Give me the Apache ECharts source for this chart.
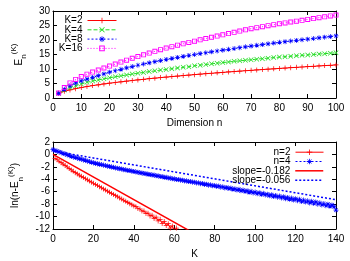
<!DOCTYPE html>
<html><head><meta charset="utf-8">
<script src="https://cdn.jsdelivr.net/npm/echarts@6/dist/echarts.min.js"></script>
<style>html,body{margin:0;padding:0;background:#fff}#c{width:350px;height:261px}</style>
</head><body><div id="c"></div>
<script>
// ---- top panel data ----
const dims = [2,4,6,8,10,12,14,16,18,20,22,24,26,28,30,32,34,36,38,40,42,44,46,48,50,52,54,56,58,60,62,64,66,68,70,72,74,76,78,80,82,84,86,88,90,92,94,96,98,100];
const eK2 = [1.6,2.3,2.8,3.2,3.6,3.95,4.27,4.56,4.84,5.1,5.35,5.58,5.81,6.03,6.24,6.45,6.65,6.84,7.03,7.21,7.39,7.56,7.73,7.9,8.06,8.22,8.38,8.53,8.68,8.83,8.98,9.12,9.26,9.4,9.54,9.67,9.81,9.94,10.07,10.2,10.32,10.45,10.57,10.69,10.82,10.93,11.05,11.17,11.28,11.4];
const eK4 = [1.6,2.75,3.6,4.25,4.85,5.4,5.84,6.24,6.62,6.98,7.32,7.64,7.95,8.26,8.54,8.82,9.1,9.36,9.62,9.87,10.11,10.35,10.58,10.81,11.1,11.33,11.55,11.78,12.0,12.21,12.42,12.63,12.82,13.01,13.2,13.39,13.57,13.75,13.93,14.1,14.25,14.4,14.55,14.7,14.85,15.0,15.15,15.3,15.44,15.6];
const eK8 = [1.6,3.0,4.2,5.1,5.9,6.5,7.1,7.7,8.3,8.9,9.4,9.9,10.4,10.85,11.3,11.72,12.12,12.52,12.92,13.3,13.65,14.0,14.34,14.68,15.0,15.31,15.61,15.91,16.21,16.5,16.79,17.07,17.35,17.63,17.9,18.16,18.42,18.68,18.94,19.2,19.43,19.65,19.87,20.09,20.3,20.52,20.74,20.96,21.18,21.4];
const eK16 = [1.7,3.6,5.2,6.4,7.4,8.2,8.95,9.65,10.35,11.0,11.7,12.4,13.05,13.7,14.3,14.9,15.5,16.08,16.65,17.2,17.7,18.2,18.68,19.15,19.6,20.05,20.5,20.94,21.37,21.8,22.23,22.66,23.08,23.5,23.9,24.25,24.6,24.94,25.27,25.6,25.9,26.2,26.5,26.8,27.1,27.4,27.7,28.0,28.3,28.6];

// ---- bottom panel data ----
const kN4 = [0,1,2,3,4,5,6,7,8,9,10,11,12,13,14,15,16,17,18,19,20,21,22,23,24,25,26,27,28,29,30,31,32,33,34,35,36,37,38,39,40,41,42,43,44,45,46,47,48,49,50,51,52,53,54,55,56,57,58,59,60,61,62,63,64,65,66,67,68,69,70,71,72,73,74,75,76,77,78,79,80,81,82,83,84,85,86,87,88,89,90,91,92,93,94,95,96,97,98,99,100,101,102,103,104,105,106,107,108,109,110,111,112,113,114,115,116,117,118,119,120,121,122,123,124,125,126,127,128,129,130,131,132,133,134,135,136,137,138,139,140];
const lnN4 = [0.78,0.62,0.54,0.40,0.31,0.16,0.08,-0.06,-0.15,-0.30,-0.38,
 -0.50,-0.57,-0.70,-0.76,-0.89,-0.95,-1.08,-1.14,-1.27,-1.33,
 -1.44,-1.48,-1.59,-1.63,-1.74,-1.78,-1.89,-1.93,-2.04,-2.08,
 -2.18,-2.21,-2.32,-2.34,-2.45,-2.47,-2.57,-2.60,-2.70,-2.73,
 -2.83,-2.85,-2.96,-2.97,-3.08,-3.09,-3.20,-3.21,-3.32,-3.33,
 -3.44,-3.45,-3.56,-3.57,-3.68,-3.69,-3.80,-3.81,-3.92,-3.93,
 -4.04,-4.03,-4.15,-4.14,-4.26,-4.24,-4.37,-4.35,-4.48,-4.46,
 -4.60,-4.56,-4.71,-4.67,-4.82,-4.78,-4.94,-4.88,-5.05,-4.99,
 -5.16,-5.10,-5.28,-5.20,-5.39,-5.31,-5.50,-5.42,-5.62,-5.52,
 -5.73,-5.62,-5.85,-5.74,-5.96,-5.84,-6.10,-5.93,-6.20,-6.06,
 -6.32,-6.15,-6.45,-6.26,-6.52,-6.40,-6.66,-6.48,-6.78,-6.60,
 -6.88,-6.70,-7.00,-6.80,-7.12,-6.92,-7.22,-7.02,-7.35,-7.12,
 -7.45,-7.22,-7.58,-7.33,-7.66,-7.45,-7.80,-7.55,-7.90,-7.65,
 -8.02,-7.78,-8.12,-7.90,-8.25,-8.00,-8.35,-8.12,-8.40,-8.95];
const kN2 = [1,2,3,4,5,6,7,8,9,10,11,12,13,14,15,16,17,18,19,20,21,22,23,24,25,26,27,28,29,30,31,32,33,34,35,36,37,38,39,40,41,42,43,44,45,46,47,48,49,50,51,52,53,54,55,56,57,58,59,60,61,62,63];
const lnN2 = [-0.63,-0.86,-1.10,-1.33,-1.56,-1.79,-2.02,-2.26,-2.49,-2.72,
 -2.93,-3.13,-3.34,-3.53,-3.73,-3.91,-4.09,-4.28,-4.46,-4.64,
 -4.82,-5.00,-5.19,-5.37,-5.55,-5.73,-5.91,-6.10,-6.28,-6.46,
 -6.64,-6.82,-7.01,-7.19,-7.37,-7.55,-7.73,-7.92,-8.10,-8.28,
 -8.40,-8.70,-8.78,-9.10,-9.12,-9.50,-9.45,-9.90,-9.78,-10.30,
 -10.10,-10.70,-10.45,-11.10,-10.80,-11.45,-11.15,-11.85,-11.50,-12.20,
 -11.85,-12.40,-12.10];
const fitK = [0, 140];
const fit182 = [0, -25.48];
const fit056 = [0.55, -7.29];

// ---- labels ----
const topNames = ['K=2','K=4','K=8','K=16'];
const botNames = ['n=2','n=4','slope=-0.182','slope=-0.056'];

const FONT = 'Liberation Sans';
const FS = 10;
const PLUS = 'path://M0,4.3H10V5.7H0Z M4.3,0H5.7V10H4.3Z';
const CROSS = 'path://M0,1L1,0L10,9L9,10Z M9,0L10,1L1,10L0,9Z';
const STAR = 'path://M0,4.3H10V5.7H0Z M4.3,0H5.7V10H4.3Z M0.8,1.6L1.6,0.8L9.2,8.4L8.4,9.2Z M8.4,0.8L9.2,1.6L1.6,9.2L0.8,8.4Z';
const SQUARE = 'path://M0,0H10V10H0Z M1.8,1.8V8.2H8.2V1.8Z';

function zip(a, b) { return a.map((v, i) => [v, b[i]]); }

function xAx(gi, min, max, iv, pos, name) {
  const show = pos === 'bottom';
  return {
    type: 'value', gridIndex: gi, position: pos, min, max, interval: iv,
    axisLine: {show: true, onZero: false, lineStyle: {color: '#000', width: 1}},
    axisTick: {show: true, inside: true, length: 4, lineStyle: {color: '#000'}},
    axisLabel: {show: show, margin: 5, color: '#000', fontSize: FS, fontFamily: FONT},
    splitLine: {show: false},
    name: show ? name : '', nameLocation: 'middle', nameGap: 20,
    nameTextStyle: {color: '#000', fontSize: FS, fontFamily: FONT}
  };
}
function yAx(gi, min, max, iv, pos, name) {
  const show = pos === 'left';
  return {
    type: 'value', gridIndex: gi, position: pos, min, max, interval: iv,
    axisLine: {show: true, onZero: false, lineStyle: {color: '#000', width: 1}},
    axisTick: {show: true, inside: true, length: 4, lineStyle: {color: '#000'}},
    axisLabel: {show: show, margin: 3, color: '#000', fontSize: FS, fontFamily: FONT},
    splitLine: {show: false},
    name: show ? name : '', nameLocation: 'middle', nameRotate: 90, nameGap: 19,
    nameTextStyle: {color: '#000', fontSize: FS, fontFamily: FONT,
      rich: {
        m: {fontSize: FS, fontFamily: FONT, color: '#000', lineHeight: 18},
        sub: {fontSize: 8, fontFamily: FONT, color: '#000', lineHeight: 7, verticalAlign: 'bottom'},
        sup: {fontSize: 8, fontFamily: FONT, color: '#000', lineHeight: 7, verticalAlign: 'top'}
      }}
  };
}

// one legend component per entry so each row sits exactly where the reference has it
function legendItem(name, right, centerY, w, lw) {
  return {
    data: [name], orient: 'vertical', align: 'right', right: right, top: centerY - 4.5,
    itemWidth: w, itemHeight: 7, itemGap: 0, padding: 0, selectedMode: false,
    lineStyle: {width: lw},
    itemStyle: {borderWidth: 0},
    textStyle: {color: '#000', fontSize: FS, fontFamily: FONT, lineHeight: 12}
  };
}
const topRows = [19, 28.3, 37.6, 46.9];
const botRows = [150.7, 160, 169.3, 178.7];
const botLegendWidths = [1, 1, 1.5, 1.5];

function ser(name, xi, yi, data, color, type, width, symbol) {
  return {
    name, type: 'line', xAxisIndex: xi, yAxisIndex: yi, data,
    symbol: symbol || 'circle', symbolSize: 5, showSymbol: !!symbol,
    lineStyle: {color, width, type},
    itemStyle: {color: symbol ? color : 'rgba(0,0,0,0)', borderWidth: 0},
    silent: true, animation: false, clip: true, z: 2
  };
}

const chart = echarts.init(document.getElementById('c'), null, {renderer: 'canvas'});
chart.setOption({
  animation: false,
  backgroundColor: '#fff',
  textStyle: {fontFamily: FONT},
  grid: [
    {left: 53, top: 11, width: 283, height: 87, containLabel: false, outerBoundsMode: 'none'},
    {left: 53, top: 142, width: 283, height: 87, containLabel: false, outerBoundsMode: 'none'}
  ],
  xAxis: [
    xAx(0, 0, 100, 10, 'bottom', 'Dimension n'),
    xAx(0, 0, 100, 10, 'top', ''),
    xAx(1, 0, 140, 20, 'bottom', 'K'),
    xAx(1, 0, 140, 20, 'top', '')
  ],
  yAxis: [
    yAx(0, 0, 30, 5, 'left', '{m|E}{sub|n}{sup|(K)}'),
    yAx(0, 0, 30, 5, 'right', ''),
    yAx(1, -12, 2, 2, 'left', '{m|ln(n-E}{sub|n}{sup|(K)}{m|)}'),
    yAx(1, -12, 2, 2, 'right', '')
  ],
  legend: topNames.map((n, i) => legendItem(n, 233, topRows[i], 29, 1))
    .concat(botNames.map((n, i) => legendItem(n, 26, botRows[i], 28, botLegendWidths[i]))),
  series: [
    ser('K=2', 0, 0, zip(dims, eK2), '#ff0000', 'solid', 1, PLUS),
    ser('K=4', 0, 0, zip(dims, eK4), '#22dd22', [4, 2], 1, CROSS),
    ser('K=8', 0, 0, zip(dims, eK8), '#0000ff', [2, 2], 1, STAR),
    ser('K=16', 0, 0, zip(dims, eK16), '#ff00ff', [1, 2], 1, SQUARE),
    ser('n=2', 2, 2, zip(kN2, lnN2), '#ff0000', 'solid', 1, PLUS),
    ser('n=4', 2, 2, zip(kN4, lnN4), '#0000ff', [2, 2], 1, STAR),
    ser('slope=-0.182', 2, 2, zip(fitK, fit182), '#ff0000', 'solid', 1.5, null),
    ser('slope=-0.056', 2, 2, zip(fitK, fit056), '#0000ff', [2, 2], 1.5, null)
  ]
});
</script></body></html>
